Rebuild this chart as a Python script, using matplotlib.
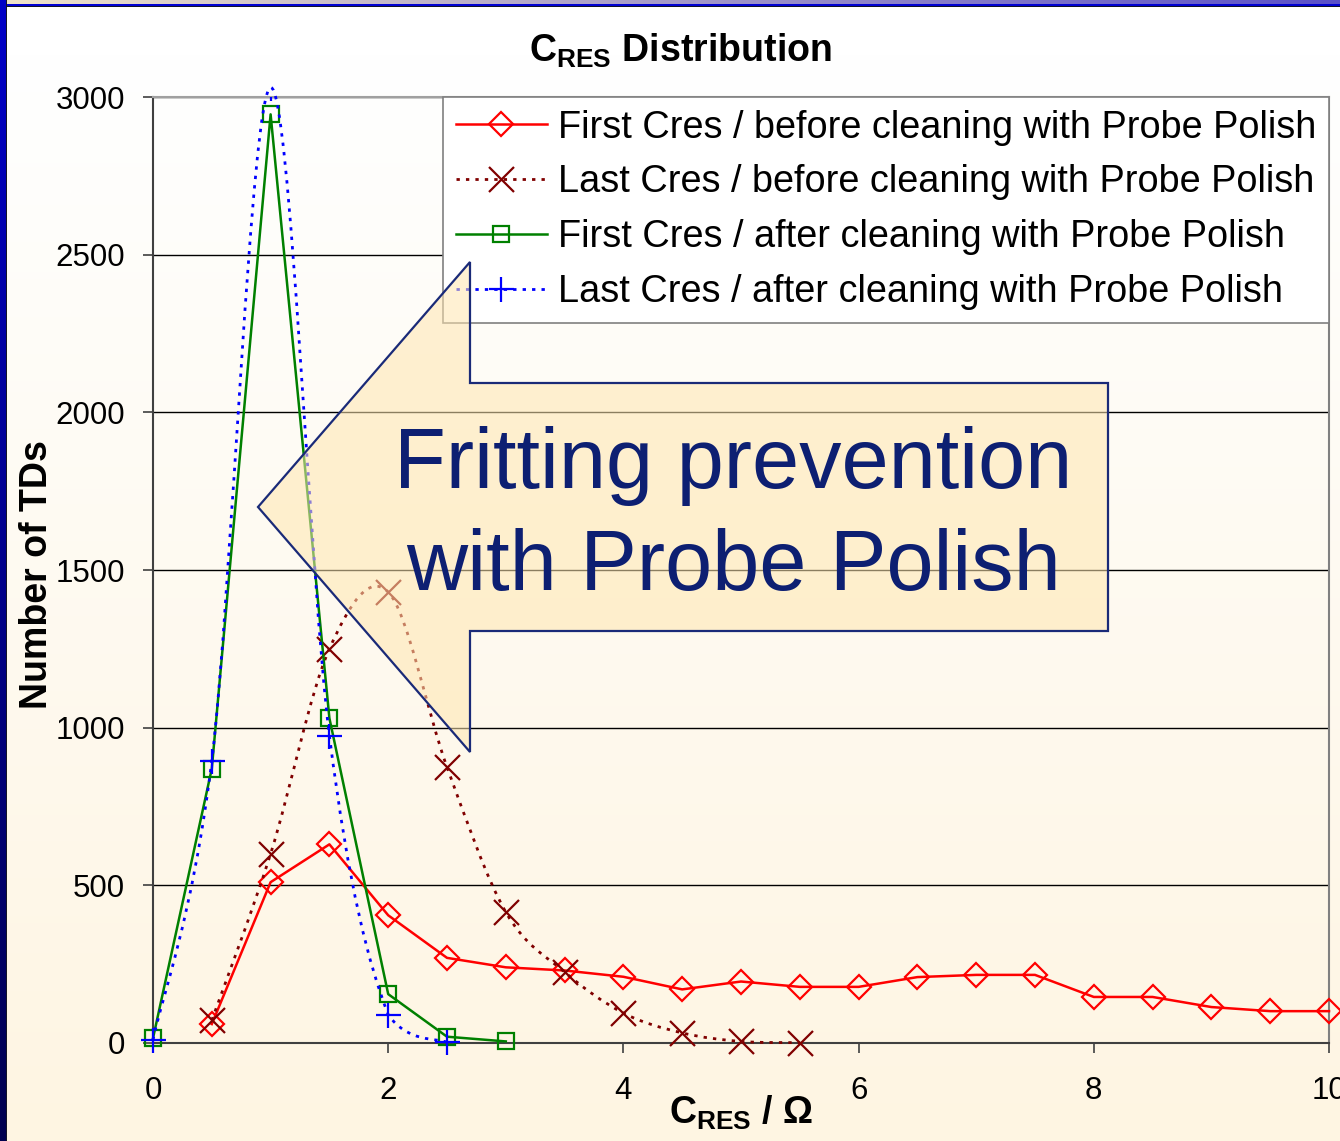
"""
C_RES distribution before / after probe polish cleaning.
"""

import numpy as np
import matplotlib
matplotlib.use("Agg")
import matplotlib.pyplot as plt
from matplotlib.path import Path
from matplotlib.patches import PathPatch, Polygon, Rectangle
from matplotlib.lines import Line2D

plt.rcParams["font.family"] = ["Liberation Sans", "DejaVu Sans"]
plt.rcParams["mathtext.fontset"] = "custom"
plt.rcParams["mathtext.rm"] = "Liberation Sans"
plt.rcParams["mathtext.bf"] = "Liberation Sans:bold"
plt.rcParams["mathtext.it"] = "Liberation Sans:italic"

# data (C_RES in Ohm, number of TDs)
x_first_before = [0.5, 1.0, 1.5, 2.0, 2.5, 3.0, 3.5, 4.0, 4.5, 5.0,
                  5.5, 6.0, 6.5, 7.0, 7.5, 8.0, 8.5, 9.0, 9.5, 10.0]
y_first_before = [60, 510, 630, 405, 270, 240, 230, 210, 170, 195,
                  178, 178, 209, 216, 216, 146, 146, 114, 101, 101]

x_last_before = [0.5, 1.0, 1.5, 2.0, 2.5, 3.0, 3.5, 4.0, 4.5, 5.0, 5.5]
y_last_before = [72, 600, 1250, 1430, 875, 415, 225, 95, 32, 5, 1]

x_first_after = [0.0, 0.5, 1.0, 1.5, 2.0, 2.5, 3.0]
y_first_after = [15, 870, 2945, 1030, 155, 20, 5]

x_last_after = [0.0, 0.5, 1.0, 1.5, 2.0, 2.5]
y_last_after = [10, 895, 3030, 975, 90, 2]

labels = [
    "First Cres / before cleaning with Probe Polish",
    "Last Cres / before cleaning with Probe Polish",
    "First Cres / after cleaning with Probe Polish",
    "Last Cres / after cleaning with Probe Polish",
]

W, H = 1340, 1141


def fx(px):
    return px / W


def fy(py):
    return 1 - py / H


def smooth_path(x, y):
    """Excel-like smoothed line through the points (cubic Bezier)."""
    x = np.asarray(x, float)
    y = np.asarray(y, float)
    n = len(x)
    verts = [(x[0], y[0])]
    codes = [Path.MOVETO]
    for i in range(n - 1):
        a = max(i - 1, 0)
        b = min(i + 2, n - 1)
        c1 = (x[i] + (x[i + 1] - x[a]) / 6, max(y[i] + (y[i + 1] - y[a]) / 6, 0))
        c2 = (x[i + 1] - (x[b] - x[i]) / 6, max(y[i + 1] - (y[b] - y[i]) / 6, 0))
        verts += [c1, c2, (x[i + 1], y[i + 1])]
        codes += [Path.CURVE4] * 3
    return Path(verts, codes)


fig = plt.figure(figsize=(W / 100, H / 100), dpi=100)

# slide background: white -> cream gradient with blue frame on left/top
t = np.clip(np.linspace(-0.05, 1, H), 0, 1)[:, None, None]
top_c = np.array([255, 255, 255], float)
bot_c = np.array([254, 245, 226], float)
img = np.repeat(top_c + (bot_c - top_c) * t, W, axis=1)
h = np.linspace(0, 1, W)[None, :, None]
img[0:4, :, :] = np.array([240, 228, 200]) + (np.array([90, 80, 200]) - np.array([240, 228, 200])) * h
img[4:6, :, :] = [0, 0, 210]
img[6, :, :] = [20, 20, 40]
v = np.linspace(0, 1, H)[:, None, None]
img[:, 0:6, :] = np.array([0, 0, 200]) + (np.array([0, 0, 80]) - np.array([0, 0, 200])) * v
img[:, 6, :] = [20, 20, 40]
bg = fig.add_axes([0, 0, 1, 1], zorder=-1)
bg.imshow(img.astype(np.uint8), aspect="auto", interpolation="nearest")
bg.axis("off")

ax = fig.add_axes([fx(153), fy(1043), fx(1329) - fx(153), fy(97) - fy(1043)])
ax.set_facecolor("none")

red, brown, green, blue = "#FF0000", "#800000", "#008000", "#0000FF"
dots = (0, (1.2, 2.2))

ax.plot(x_first_before, y_first_before, color=red, lw=1.8, marker="D", ms=12.5,
        mfc="none", mew=1.6, clip_on=False, zorder=3)

ax.add_patch(PathPatch(smooth_path(x_last_before, y_last_before), fill=False,
                       ec=brown, lw=2, ls=dots, clip_on=False, zorder=3))
ax.plot(x_last_before, y_last_before, ls="none", marker="x", ms=18, color=brown,
        mew=1.6, clip_on=False, zorder=3)

ax.plot(x_first_after, y_first_after, color=green, lw=1.8, marker="s", ms=12,
        mfc="none", mew=1.6, clip_on=False, zorder=3)

ax.add_patch(PathPatch(smooth_path(x_last_after, y_last_after), fill=False,
                       ec=blue, lw=2, ls=dots, clip_on=False, zorder=3))
# markers above the top of the plot area are hidden, the line is not
blue_pts, = ax.plot(x_last_after, y_last_after, ls="none", marker="+", ms=18,
                    color=blue, mew=1.6, zorder=3)
blue_pts.set_clip_path(Rectangle((-0.1, -0.1), 1.2, 1.1, transform=ax.transAxes))

ax.set_xlim(0, 10)
ax.set_ylim(0, 3000)
ax.set_xticks([0, 2, 4, 6, 8, 10])
ax.set_yticks([0, 500, 1000, 1500, 2000, 2500, 3000])
ax.tick_params(axis="both", direction="out", length=7, width=1.2, labelsize=22.5,
               color="#404040")
ax.tick_params(axis="y", pad=13)
ax.tick_params(axis="x", pad=16.5)
ax.yaxis.grid(True, color="black", lw=1)
ax.set_axisbelow(True)
ax.spines["left"].set_color("#404040")
ax.spines["bottom"].set_color("#404040")
ax.spines["top"].set_color("#A0A0A0")
ax.spines["right"].set_color("#808080")
for s in ax.spines.values():
    s.set_linewidth(1.5)

handles = [
    Line2D([], [], color=red, lw=1.8, marker="D", ms=12.5, mfc="none", mew=1.6),
    Line2D([], [], color=brown, lw=2, ls=dots, marker="x", ms=18, mew=1.6),
    Line2D([], [], color=green, lw=1.8, marker="s", ms=12, mfc="none", mew=1.6),
    Line2D([], [], color=blue, lw=2, ls=dots, marker="+", ms=18, mew=1.6),
]
leg = ax.legend(handles, labels, loc="upper right", bbox_to_anchor=(1, 1),
                borderaxespad=0, fontsize=27.3, frameon=True, fancybox=False,
                edgecolor="#808080", facecolor="white", framealpha=1,
                borderpad=0.33, labelspacing=0.5, handlelength=2.4,
                handletextpad=0.3)
leg.get_frame().set_linewidth(1.2)

# callout arrow pointing at the cleaned peak
arrow_px = [(258, 507), (470, 262), (470, 383), (1108, 383),
            (1108, 631), (470, 631), (470, 752)]
arrow = Polygon([(fx(a), fy(b)) for a, b in arrow_px], closed=True,
                transform=fig.transFigure, facecolor="#FFE6B0", alpha=0.55,
                edgecolor="none", zorder=10)
fig.add_artist(arrow)
arrow_edge = Polygon([(fx(a), fy(b)) for a, b in arrow_px], closed=True,
                     transform=fig.transFigure, fill=False,
                     edgecolor="#1A2A78", lw=1.6, zorder=10)
fig.add_artist(arrow_edge)
fig.text(fx(733), fy(488), "Fritting prevention", ha="center", va="baseline",
         fontsize=61, color="#0D1F72", zorder=11)
fig.text(fx(733), fy(590), "with Probe Polish", ha="center", va="baseline",
         fontsize=61, color="#0D1F72", zorder=11)

fig.text(fx(680), fy(62), r"$\mathbf{C_{RES}}$ Distribution", ha="center",
         va="baseline", fontsize=27, fontweight="bold")
fig.text(fx(741), fy(1124), r"$\mathbf{C_{RES}}$ / Ω", ha="center",
         va="baseline", fontsize=27, fontweight="bold")
fig.text(fx(37), fy(575), "Number of TDs", rotation=90, ha="center",
         va="center", fontsize=27, fontweight="bold")

fig.savefig("out.png", dpi=100)
